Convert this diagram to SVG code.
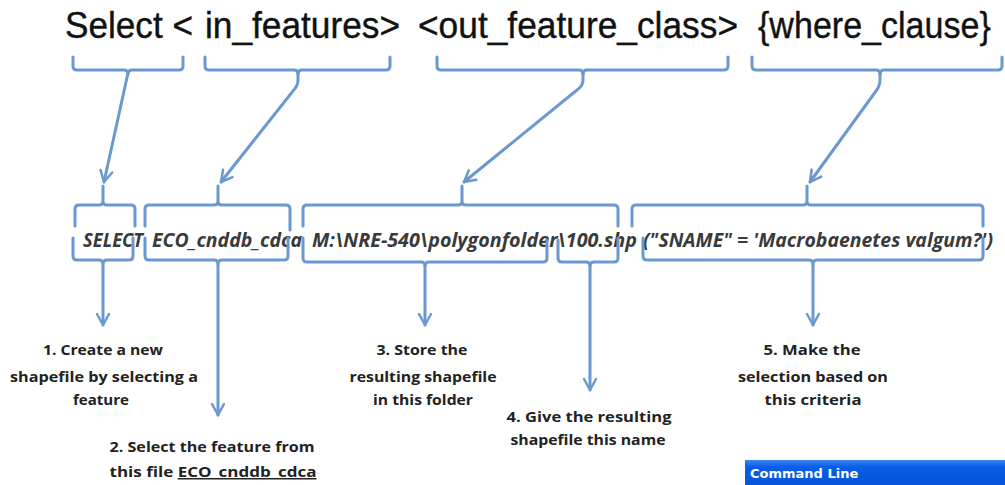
<svg xmlns="http://www.w3.org/2000/svg" width="1005" height="485" viewBox="0 0 1005 485">
<defs>
<marker id="ah" markerUnits="userSpaceOnUse" markerWidth="16" markerHeight="16" viewBox="0 0 16 16" refX="13" refY="8" orient="auto">
<path d="M2,2 L13,8 L2,14" fill="none" stroke="#6b98cf" stroke-width="2.5" stroke-linecap="round" stroke-linejoin="round"/>
</marker>
<linearGradient id="xp" x1="0" y1="0" x2="0" y2="1">
<stop offset="0" stop-color="#3b86f5"/>
<stop offset="0.25" stop-color="#0a5ee6"/>
<stop offset="1" stop-color="#0453db"/>
</linearGradient>
<style>
.br{fill:none;stroke:#6b98cf;stroke-width:3;stroke-linecap:round;stroke-linejoin:round}
.ar{fill:none;stroke:#6b98cf;stroke-width:3;stroke-linecap:round;marker-end:url(#ah)}
.top{font-family:"Liberation Sans",Arial,sans-serif;font-size:37px;fill:#111;stroke:#111;stroke-width:0.4}
.mid{font-family:"Open Sans","Liberation Sans",sans-serif;font-size:19px;font-weight:bold;font-style:italic;fill:#3a3a3a}
.lab{font-family:"Open Sans","Liberation Sans",sans-serif;font-size:15px;font-weight:bold;fill:#222;text-anchor:middle}
.cmd{font-family:Tahoma,"DejaVu Sans","Liberation Sans",sans-serif;font-size:13px;font-weight:bold;fill:#fff}
</style>
</defs>

<g id="syntax">
<text class="top" x="65" y="38" textLength="128" lengthAdjust="spacingAndGlyphs">Select &lt;</text>
<text class="top" x="205" y="38" textLength="195" lengthAdjust="spacingAndGlyphs">in_features&gt;</text>
<text class="top" x="418" y="38" textLength="320" lengthAdjust="spacingAndGlyphs">&lt;out_feature_class&gt;</text>
<text class="top" transform="translate(758,38) scale(0.92,1)" x="0" y="0">{where_clause}</text>
</g>

<g id="command">
<text class="mid" x="83" y="247" textLength="60" lengthAdjust="spacingAndGlyphs">SELECT</text>
<text class="mid" x="152" y="247" textLength="150" lengthAdjust="spacingAndGlyphs">ECO_cnddb_cdca</text>
<text class="mid" x="312" y="247" textLength="325" lengthAdjust="spacingAndGlyphs">M:\NRE-540\polygonfolder\100.shp</text>
<text class="mid" x="643" y="247" textLength="350" lengthAdjust="spacingAndGlyphs">("SNAME" = 'Macrobaenetes valgum?')</text>
</g>

<g id="label1">
<text class="lab" x="103" y="355" textLength="120" lengthAdjust="spacingAndGlyphs">1. Create a new</text>
<text class="lab" x="104" y="382" textLength="188" lengthAdjust="spacingAndGlyphs">shapefile by selecting a</text>
<text class="lab" x="101" y="405" textLength="56" lengthAdjust="spacingAndGlyphs">feature</text>
</g>
<g id="label2">
<text class="lab" x="212" y="452" textLength="205" lengthAdjust="spacingAndGlyphs">2. Select the feature from</text>
<text class="lab" x="213" y="477" textLength="207" lengthAdjust="spacingAndGlyphs">this file <tspan text-decoration="underline">ECO_cnddb_cdca</tspan></text>
</g>
<g id="label3">
<text class="lab" x="422" y="355" textLength="91" lengthAdjust="spacingAndGlyphs">3. Store the</text>
<text class="lab" x="423" y="382" textLength="147" lengthAdjust="spacingAndGlyphs">resulting shapefile</text>
<text class="lab" x="423" y="405" textLength="100" lengthAdjust="spacingAndGlyphs">in this folder</text>
</g>
<g id="label4">
<text class="lab" x="589" y="422" textLength="165" lengthAdjust="spacingAndGlyphs">4. Give the resulting</text>
<text class="lab" x="588" y="445" textLength="155" lengthAdjust="spacingAndGlyphs">shapefile this name</text>
</g>
<g id="label5">
<text class="lab" x="812" y="355" textLength="97" lengthAdjust="spacingAndGlyphs">5. Make the</text>
<text class="lab" x="813" y="382" textLength="150" lengthAdjust="spacingAndGlyphs">selection based on</text>
<text class="lab" x="813" y="405" textLength="97" lengthAdjust="spacingAndGlyphs">this criteria</text>
</g>

<g id="commandline">
<rect x="745" y="460" width="262" height="27" fill="url(#xp)"/>
<text class="cmd" x="750" y="478">Command Line</text>
</g>

<g id="connectors">
<path class="br" d="M73,57 V66 Q73,70 77,70 H124 Q128,70 128,74 Q128,70 132,70 H179 Q183,70 183,66 V57"/>
<path class="br" d="M205,57 V66 Q205,70 209,70 H294 Q298,70 298,74 Q298,70 302,70 H386 Q390,70 390,66 V57"/>
<path class="br" d="M437,57 V66 Q437,70 441,70 H579 Q583,70 583,74 Q583,70 587,70 H724 Q728,70 728,66 V57"/>
<path class="br" d="M752,57 V66 Q752,70 756,70 H876 Q880,70 880,74 Q880,70 884,70 H998 Q1002,70 1002,66 V57"/>
<path class="ar" d="M128,73 L104,182"/>
<path class="ar" d="M298,73 V80 Q298,86 293,91 L221,182"/>
<path class="ar" d="M583,73 V80 Q583,86 577,90 L464,182"/>
<path class="ar" d="M880,73 V80 Q880,86 876,91 L810,182"/>
<path class="br" d="M75,226 V209 Q75,205 79,205 H99 Q103,205 103,201 V186 M103,201 Q103,205 107,205 H131 Q135,205 135,209 V226"/>
<path class="br" d="M145,226 V209 Q145,205 149,205 H214 Q218,205 218,201 V186 M218,201 Q218,205 222,205 H286 Q290,205 290,209 V230"/>
<path class="br" d="M303,226 V209 Q303,205 307,205 H458 Q462,205 462,201 V186 M462,201 Q462,205 466,205 H614 Q618,205 618,209 V226"/>
<path class="br" d="M632,226 V209 Q632,205 636,205 H803 Q807,205 807,201 V186 M807,201 Q807,205 811,205 H979 Q983,205 983,209 V226"/>
<path class="br" d="M73,238 V256 Q73,260 77,260 H99 Q103,260 103,264 Q103,260 107,260 H129 Q133,260 133,256 V238"/>
<path class="br" d="M145,238 V256 Q145,260 149,260 H214 Q218,260 218,264 Q218,260 222,260 H284 Q288,260 288,256 V238"/>
<path class="br" d="M303,238 V258 Q303,262 307,262 H421 Q425,262 425,266 Q425,262 429,262 H543 Q547,262 547,258 V240"/>
<path class="br" d="M558,240 V258 Q558,262 562,262 H586 Q590,262 590,266 Q590,262 594,262 H614 Q618,262 618,258 V238"/>
<path class="br" d="M643,238 V256 Q643,260 647,260 H809 Q813,260 813,264 Q813,260 817,260 H979 Q983,260 983,256 V238"/>
<path class="ar" d="M103,264 V325"/>
<path class="ar" d="M218,264 V415"/>
<path class="ar" d="M425,266 V325"/>
<path class="ar" d="M590,266 V390"/>
<path class="ar" d="M813,264 V325"/>
</g>
</svg>
